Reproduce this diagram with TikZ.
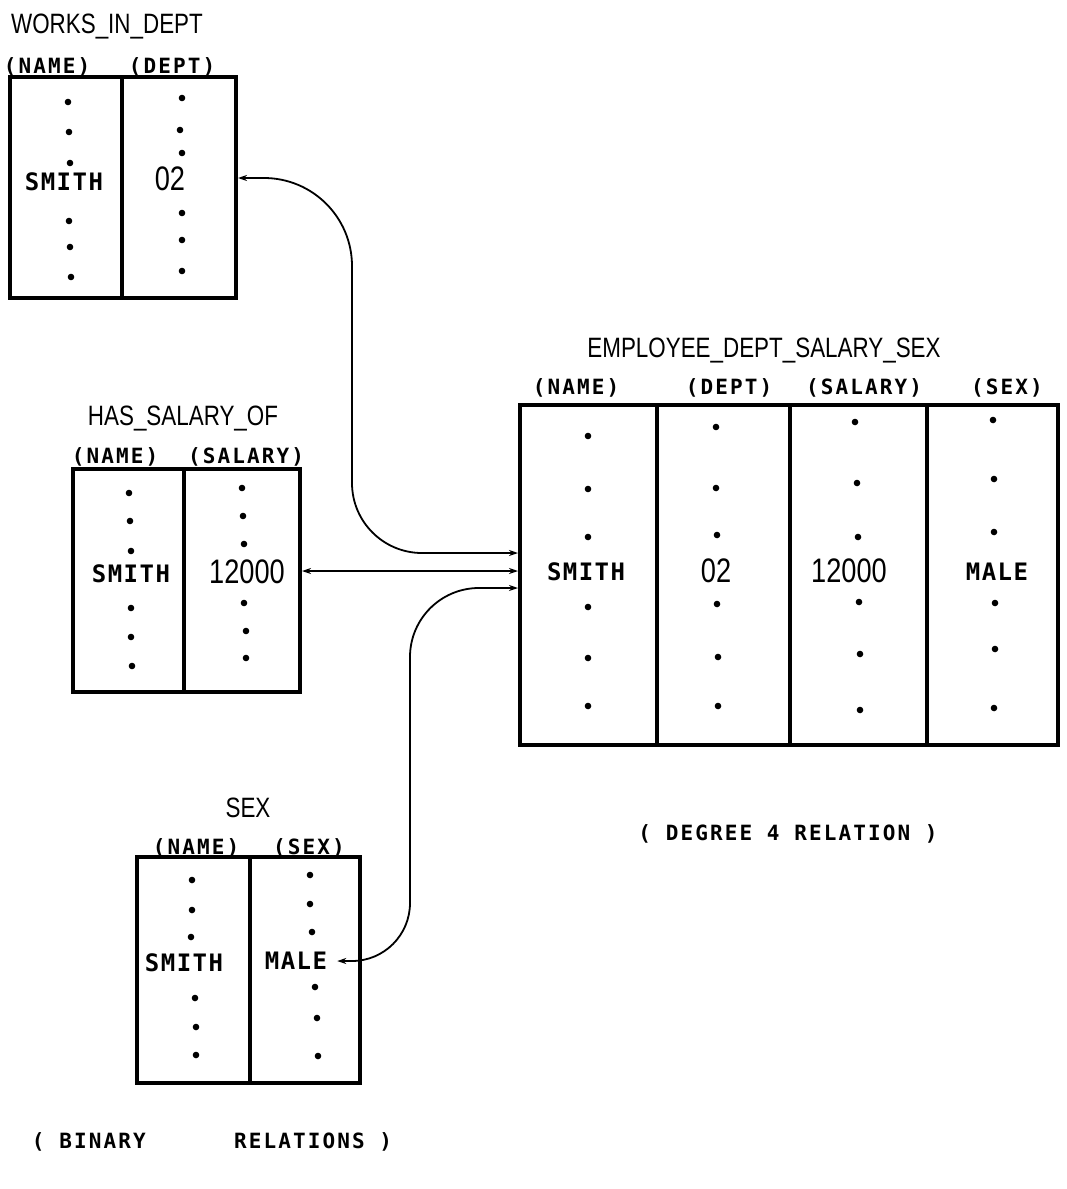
\documentclass[tikz,border=0pt]{standalone}
\usepackage{fontspec}
\usetikzlibrary{arrows.meta}
\newfontfamily\condf[FakeStretch=0.8]{Liberation Sans}
\newfontfamily\typef[LetterSpace=10]{DejaVu Sans Mono Bold}
\newfontfamily\typev[LetterSpace=6]{DejaVu Sans Mono Bold}
\begin{document}
\begin{tikzpicture}[x=1pt,y=1pt,
  title/.style={font=\condf\fontsize{28}{30}\selectfont, inner sep=0pt, text height=20pt, text depth=0pt},
  num/.style={font=\condf\fontsize{34}{36}\selectfont, inner sep=0pt, text height=24.3pt, text depth=0pt},
  hdr/.style={font=\typef\fontsize{21}{24}\selectfont, inner sep=0pt, text height=15.3pt, text depth=0pt},
  val/.style={font=\typev\fontsize{24}{26}\selectfont, inner sep=0pt, text height=17.5pt, text depth=0pt},
  relbox/.style={draw, line width=4pt, inner sep=0pt},
  divider/.style={line width=3.5pt},
  conn/.style={line width=1.8pt, {Stealth[length=9pt,width=6pt]}-{Stealth[length=9pt,width=6pt]}},
]
\useasboundingbox (0,0) rectangle (1067,-1189);

% ---------- WORKS_IN_DEPT ----------
\node[title] (wt) at (107,-23) {WORKS\_IN\_DEPT};
\node[hdr] (wh1) at (47,-66) {(NAME)};
\node[hdr] (wh2) at (172,-66) {(DEPT)};
\node[relbox, minimum width=226pt, minimum height=221pt] (wid) at (123,-187.5) {};
\draw[divider] (122,-77) -- (122,-298);
\node[val] (wsmith) at (64,-182) {SMITH};
\node[num] (w02) at (170,-178) {02};
\foreach \x/\y in {68/102,69/132,70/163,69/221,70/247,71/277,
                   182/98,180/130,182/153,182/213,182/240,182/271}
  \fill (\x,-\y) circle (3.3pt);

% ---------- HAS_SALARY_OF ----------
\node[title] (ht) at (183,-415) {HAS\_SALARY\_OF};
\node[hdr] (hh1) at (115,-456) {(NAME)};
\node[hdr] (hh2) at (246,-456) {(SALARY)};
\node[relbox, minimum width=227pt, minimum height=223pt] (has) at (186.5,-580.5) {};
\draw[divider] (184,-469) -- (184,-692);
\node[val] (hsmith) at (131,-574) {SMITH};
\node[num] (h12000) at (247,-571) {12000};
\foreach \x/\y in {129/493,130/521,131/551,131/608,131/637,132/666,
                   242/488,243/516,244/544,244/603,246/631,246/658}
  \fill (\x,-\y) circle (3.3pt);

% ---------- SEX ----------
\node[title] (st) at (248,-807) {SEX};
\node[hdr] (sh1) at (196,-847) {(NAME)};
\node[hdr] (sh2) at (309,-847) {(SEX)};
\node[relbox, minimum width=223pt, minimum height=226pt] (sex) at (248.5,-970) {};
\draw[divider] (250,-857) -- (250,-1083);
\node[val] (ssmith) at (184,-963) {SMITH};
\node[val] (smale) at (296,-961) {MALE};
\foreach \x/\y in {192/880,192/910,191/937,195/998,196/1027,196/1055,
                   310/875,310/904,312/932,315/987,317/1018,318/1056}
  \fill (\x,-\y) circle (3.3pt);

% ---------- EMPLOYEE_DEPT_SALARY_SEX ----------
\node[title] (et) at (764,-347) {EMPLOYEE\_DEPT\_SALARY\_SEX};
\node[hdr] (eh1) at (576,-387) {(NAME)};
\node[hdr] (eh2) at (729,-387) {(DEPT)};
\node[hdr] (eh3) at (864,-387) {(SALARY)};
\node[hdr] (eh4) at (1007,-387) {(SEX)};
\node[relbox, minimum width=538pt, minimum height=340pt] (emp) at (789,-575) {};
\draw[divider] (657,-405) -- (657,-745);
\draw[divider] (790,-405) -- (790,-745);
\draw[divider] (927,-405) -- (927,-745);
\node[val] (esmith) at (586,-572) {SMITH};
\node[num] (e02) at (716,-570) {02};
\node[num] (e12000) at (849,-570) {12000};
\node[val] (emale) at (997,-572) {MALE};
\foreach \x/\y in {588/436,588/489,588/537,588/607,588/658,588/706,
                   716/427,716/488,717/535,717/604,718/657,718/706,
                   855/422,857/483,858/537,859/602,860/654,860/710,
                   993/420,994/479,994/532,995/603,995/649,994/708}
  \fill (\x,-\y) circle (3.3pt);

% ---------- captions ----------
\node[hdr] (cap4) at (788,-833) {( DEGREE 4 RELATION )};
\node[hdr] (cap2) at (212,-1141) {( BINARY~~~~~ RELATIONS )};

% ---------- connectors ----------
\coordinate (in1) at (emp.west |- 0,-553);
\coordinate (in3) at (emp.west |- 0,-588);
\draw[conn] (wid.east |- w02) -- ++(26,0)
   arc[start angle=90,end angle=0,radius=88pt] -- (352,-483)
   arc[start angle=180,end angle=270,radius=70pt] -- (in1);
\draw[conn] (has.east |- h12000) -- (emp.west |- h12000);
\draw[conn] ([xshift=10pt]smale.east) -- (352,-961)
   arc[start angle=-90,end angle=0,radius=58pt] -- (410,-657)
   arc[start angle=180,end angle=90,radius=69pt] -- (in3);
\end{tikzpicture}
\end{document}
